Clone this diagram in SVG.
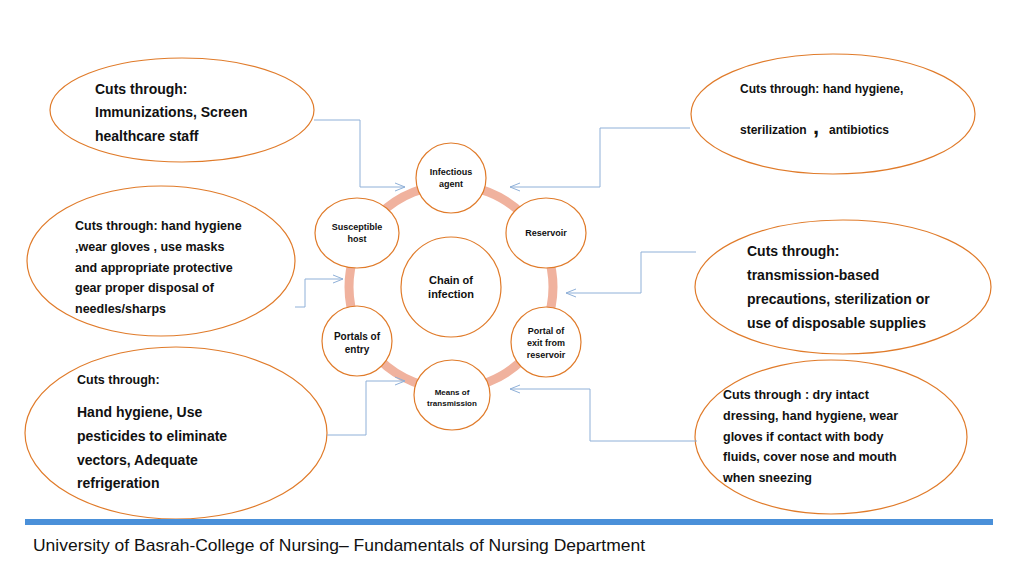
<svg xmlns="http://www.w3.org/2000/svg" width="1024" height="576" viewBox="0 0 1024 576">
<defs>
<marker id="ah" markerWidth="12" markerHeight="10" refX="11" refY="5" orient="auto" markerUnits="userSpaceOnUse"><path d="M1,1 L11,5 L1,9" fill="none" stroke="#8fb0d8" stroke-width="1"/></marker>
</defs>
<style>
.big{fill:#fff;stroke:#e07b2a;stroke-width:1.2}
.sm{fill:#fff;stroke:#e07b2a;stroke-width:1.2}
.t{font-family:"Liberation Sans",Arial,sans-serif;font-weight:bold;fill:#111}
.c{stroke:#8fb0d8;stroke-width:1;fill:none;marker-end:url(#ah)}
</style>
<rect width="1024" height="576" fill="#fff"/>
<circle cx="451" cy="287" r="102" fill="none" stroke="#f0b29e" stroke-width="9"/>
<g id="e1"><ellipse class="big" cx="182" cy="110" rx="132" ry="52"/>
<text class="t" font-size="14"><tspan x="95" y="94">Cuts through:</tspan><tspan x="95" y="117">Immunizations,  Screen</tspan><tspan x="95" y="141">healthcare staff</tspan></text></g>
<g id="e2"><ellipse class="big" cx="833" cy="114" rx="142" ry="60"/>
<text class="t" font-size="12"><tspan x="740" y="93">Cuts through: hand hygiene,</tspan><tspan x="740" y="134">sterilization</tspan><tspan x="813" y="134" font-size="22">,</tspan><tspan x="829" y="134">antibiotics</tspan></text></g>
<g id="e3"><ellipse class="big" cx="161" cy="261" rx="134" ry="75"/>
<text class="t" font-size="12.5"><tspan x="75" y="230">Cuts through: hand hygiene</tspan><tspan x="75" y="251">,wear gloves , use masks</tspan><tspan x="75" y="272">and appropriate protective</tspan><tspan x="75" y="292">gear proper disposal of</tspan><tspan x="75" y="313">needles/sharps</tspan></text></g>
<g id="e4"><ellipse class="big" cx="843" cy="287" rx="148" ry="67"/>
<text class="t" font-size="14"><tspan x="747" y="256">Cuts through:</tspan><tspan x="747" y="280">transmission-based</tspan><tspan x="747" y="304">precautions, sterilization or</tspan><tspan x="747" y="328">use of disposable supplies</tspan></text></g>
<g id="e5"><ellipse class="big" cx="176" cy="433" rx="151" ry="86"/>
<text class="t" font-size="12.5"><tspan x="77" y="384">Cuts through:</tspan></text>
<text class="t" font-size="14"><tspan x="77" y="417">Hand hygiene, Use</tspan><tspan x="77" y="441">pesticides to eliminate</tspan><tspan x="77" y="465">vectors,  Adequate</tspan><tspan x="77" y="488">refrigeration</tspan></text></g>
<g id="e6"><ellipse class="big" cx="831" cy="437" rx="136" ry="77"/>
<text class="t" font-size="12.5"><tspan x="723" y="399">Cuts through : dry intact</tspan><tspan x="723" y="420">dressing, hand hygiene, wear</tspan><tspan x="723" y="441">gloves if contact with body</tspan><tspan x="723" y="461">fluids, cover nose and mouth</tspan><tspan x="723" y="482">when sneezing</tspan></text></g>
<g id="n1"><circle class="sm" cx="451" cy="178" r="35"/><text class="t" font-size="9" text-anchor="middle"><tspan x="451" y="175">Infectious</tspan><tspan x="451" y="187">agent</tspan></text></g>
<g id="n2"><ellipse class="sm" cx="546" cy="233" rx="40" ry="35"/><text class="t" font-size="9" text-anchor="middle" x="546" y="236">Reservoir</text></g>
<g id="n3"><ellipse class="sm" cx="357" cy="233" rx="42" ry="35"/><text class="t" font-size="9" text-anchor="middle"><tspan x="357" y="230">Susceptible</tspan><tspan x="357" y="242">host</tspan></text></g>
<g id="n4"><circle class="sm" cx="451" cy="287" r="50"/><text class="t" font-size="11" text-anchor="middle"><tspan x="451" y="284">Chain of</tspan><tspan x="451" y="298">infection</tspan></text></g>
<g id="n5"><circle class="sm" cx="546" cy="342" r="35"/><text class="t" font-size="9" text-anchor="middle"><tspan x="546" y="334">Portal of</tspan><tspan x="546" y="346">exit from</tspan><tspan x="546" y="358">reservoir</tspan></text></g>
<g id="n6"><circle class="sm" cx="357" cy="341" r="35"/><text class="t" font-size="10" text-anchor="middle"><tspan x="357" y="340">Portals of</tspan><tspan x="357" y="353">entry</tspan></text></g>
<g id="n7"><ellipse class="sm" cx="452" cy="395" rx="38" ry="35"/><text class="t" font-size="8" text-anchor="middle"><tspan x="452" y="395">Means of</tspan><tspan x="452" y="406">transmission</tspan></text></g>
<g id="connectors">
<path class="c" d="M314,120 H360 V187 H405"/>
<path class="c" d="M690,128 H600 V187 H510"/>
<path class="c" d="M295,307 H305 V279 H343"/>
<path class="c" d="M696,252 H641 V293 H566"/>
<path class="c" d="M327,435 H366 V381 H405"/>
<path class="c" d="M697,441 H590 V389 H510"/>
</g>
<rect x="25" y="519" width="968" height="6" fill="#4a90d9"/>
<text x="33" y="551" font-family="'Liberation Sans',Arial,sans-serif" font-size="16.5" fill="#111" textLength="612" lengthAdjust="spacingAndGlyphs">University of Basrah-College of Nursing– Fundamentals of Nursing Department</text>
</svg>
